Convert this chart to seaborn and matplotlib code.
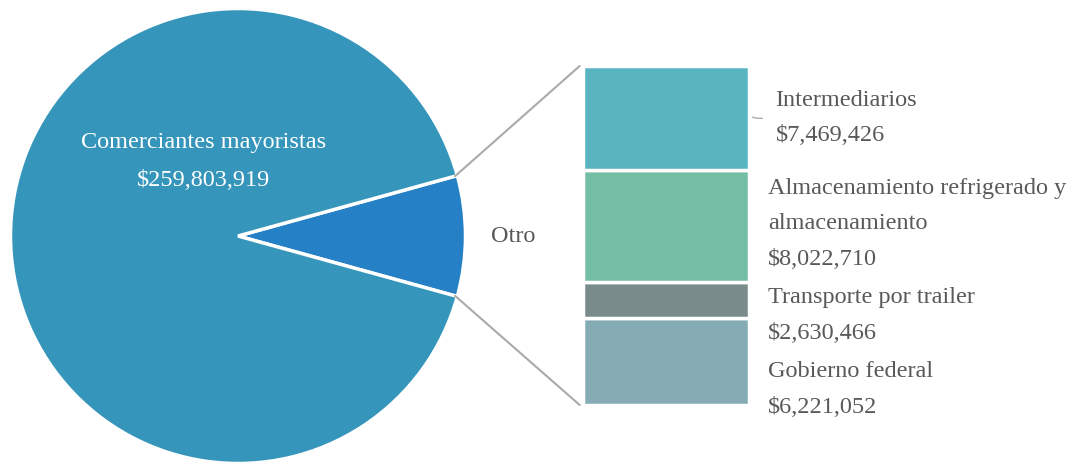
import matplotlib
import numpy as np

matplotlib.use("Agg")
import matplotlib.pyplot as plt
import seaborn as sns
from matplotlib.patches import ConnectionPatch

sns.set_theme(style="white")
plt.rcParams["font.family"] = ["Liberation Serif", "DejaVu Serif"]

# data
pie_labels = ["Otro", "Comerciantes mayoristas"]
main_value = 259803919
bar_labels = [
    "Intermediarios",
    "Almacenamiento refrigerado y\nalmacenamiento",
    "Transporte por trailer",
    "Gobierno federal",
]
bar_values = [7469426, 8022710, 2630466, 6221052]

pie_colors = ["#2680c5", "#3595ba"]
bar_colors = ["#58b5c0", "#75bea6", "#7a8b8c", "#85acb5"]
text_color = "#595959"
fs = 17.5

W, H = 1087, 462
fig = plt.figure(figsize=(W / 100, H / 100), dpi=100)

otro_value = sum(bar_values)
pie_values = [otro_value, main_value]
otro_frac = otro_value / (otro_value + main_value)
half_angle = otro_frac * 180

# pie
ax_pie = fig.add_axes([10.5 / W, -1.5 / H, 455 / W, 455 / H])
ax_pie.pie(
    pie_values,
    colors=pie_colors,
    startangle=-half_angle,
    counterclock=True,
    wedgeprops=dict(edgecolor="white", linewidth=2.5),
)
ax_pie.set_xlim(-1, 1)
ax_pie.set_ylim(-1, 1)
ax_pie.set_aspect("equal")
ax_pie.axis("off")

ax_pie.text(-0.15, 0.41, pie_labels[1], color="white", fontsize=fs,
            ha="center", va="center")
ax_pie.text(-0.15, 0.245, f"${main_value:,}", color="white", fontsize=fs,
            ha="center", va="center")
ax_pie.text(1.21, 0.0, pie_labels[0], color=text_color, fontsize=fs,
            ha="center", va="center")

# stacked bar for "Otro"
ax_bar = fig.add_axes([583 / W, (H - 405) / H, 166 / W, 339 / H])
bottoms = np.cumsum([0] + bar_values[::-1][:-1])
for val, bot, col in zip(bar_values[::-1], bottoms, bar_colors[::-1]):
    ax_bar.bar(0, val, bottom=bot, width=1, color=col,
               edgecolor="white", linewidth=2.5)
ax_bar.set_xlim(-0.5, 0.5)
ax_bar.set_ylim(0, otro_value)
ax_bar.axis("off")

# labels next to the bar
centers = (bottoms + np.array(bar_values[::-1]) / 2)[::-1]
label_offsets = [0, 1.5, -11, -20]
label_x = [1.16, 1.115, 1.115, 1.115]
for lab, val, c, off, lx in zip(bar_labels, bar_values, centers,
                                label_offsets, label_x):
    ax_bar.annotate(
        f"{lab}\n${val:,}", xy=(lx, c), xycoords=("axes fraction", "data"),
        xytext=(0, off), textcoords="offset points",
        ha="left", va="center", color=text_color, fontsize=fs,
        linespacing=1.9,
    )
# small leader for the first label
ax_bar.plot([0.52, 0.55, 0.58], [centers[0] + 60000, centers[0] - 20000, centers[0] - 20000],
            color="#aaaaaa", lw=1, clip_on=False)

# connector lines from the pie slice to the bar
ang = np.deg2rad(half_angle)
for sgn, ytop in [(1, otro_value), (-1, 0)]:
    con = ConnectionPatch(
        xyA=(np.cos(ang) * 0.99, sgn * np.sin(ang) * 0.99), coordsA=ax_pie.transData,
        xyB=(-0.52, ytop), coordsB=ax_bar.transData,
        color="#aaaaaa", lw=1.5,
    )
    fig.add_artist(con)

fig.savefig("out.png", dpi=100)
plt.close("all")
